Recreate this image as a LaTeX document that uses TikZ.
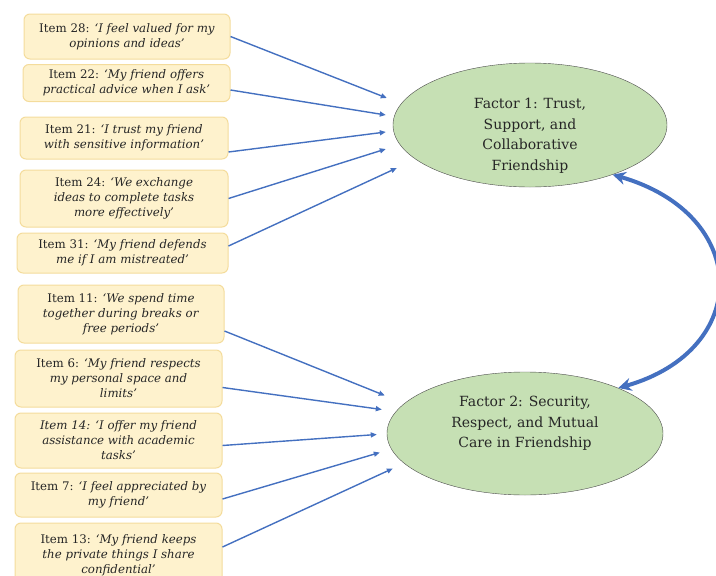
\documentclass[tikz,border=0pt]{standalone}
\usepackage{fontspec}
\setmainfont{DejaVu Serif}
\usetikzlibrary{arrows.meta, positioning, shapes, calc}
\definecolor{itemfill}{HTML}{FEF2CD}
\definecolor{itemline}{HTML}{F4DC9C}
\definecolor{factorfill}{HTML}{C6E0B4}
\definecolor{arrowblue}{HTML}{4470C0}

\begin{document}
\begin{tikzpicture}[
    x=1pt, y=-1pt,
    every node/.style={align=center, text=black!85},
    item/.style={rectangle, rounded corners=6pt, draw=itemline, fill=itemfill, line width=1pt,
                 inner sep=0pt, font=\fontsize{11.8}{15}\selectfont},
    factor/.style={ellipse, draw=black!70, fill=factorfill, thin, inner sep=0pt},
    factortext/.style={font=\fontsize{14}{20.5}\selectfont},
    arrow/.style={-{Triangle[length=6pt, width=5pt]}, line width=1.4pt, arrowblue},
    link/.style={{Stealth[length=13pt, width=13pt]}-{Stealth[length=13pt, width=13pt]},
                 line width=4pt, arrowblue}
]
\useasboundingbox (0,0) rectangle (716,576);

% --- Items of factor 1 ---
\node[item, minimum width=206, minimum height=45] (i28) at (127,36.5)
  {Item 28: \textit{`I feel valued for my}\\\textit{opinions and ideas'}};
\node[item, minimum width=207, minimum height=37] (i22) at (126.5,83)
  {Item 22: \textit{`My friend offers}\\\textit{practical advice when I ask'}};
\node[item, minimum width=208, minimum height=42] (i21) at (124,138)
  {Item 21: \textit{`I trust my friend}\\\textit{with sensitive information'}};
\node[item, minimum width=208, minimum height=57] (i24) at (124,198.5)
  {Item 24: \textit{`We exchange}\\\textit{ideas to complete tasks}\\\textit{more effectively'}};
\node[item, minimum width=211, minimum height=40] (i31) at (122.5,253)
  {Item 31: \textit{`My friend defends}\\\textit{me if I am mistreated'}};

% --- Items of factor 2 ---
\node[item, minimum width=206, minimum height=58] (i11) at (121,314)
  {Item 11: \textit{`We spend time}\\\textit{together during breaks or}\\\textit{free periods'}};
\node[item, minimum width=207, minimum height=57] (i6) at (118.5,378.5)
  {Item 6: \textit{`My friend respects}\\\textit{my personal space and}\\\textit{limits'}};
\node[item, minimum width=207, minimum height=55] (i14) at (118.5,440.5)
  {\textit{Item 14: `I offer my friend}\\\textit{assistance with academic}\\\textit{tasks'}};
\node[item, minimum width=207, minimum height=44] (i7) at (118.5,495)
  {Item 7: \textit{`I feel appreciated by}\\\textit{my friend'}};
\node[item, minimum width=207, minimum height=64] (i13) at (118.5,555)
  {Item 13: \textit{`My friend keeps}\\\textit{the private things I share}\\\textit{confidential'}};

% --- Factors ---
\node[factor, minimum width=274, minimum height=124] (f1) at (530,125) {};
\node[factortext] (f1text) at ($(f1)+(0,11)$)
  {Factor 1: Trust,\\Support, and\\Collaborative\\Friendship};
\node[factor, minimum width=276, minimum height=123] (f2) at (525,433.5) {};
\node[factortext] (f2text) at ($(f2)+(0,-10)$)
  {Factor 2: Security,\\Respect, and Mutual\\Care in Friendship};

% --- Loadings ---
\draw[arrow] (i28.east) -- ($(f1.west)+(-6,-27)$);
\draw[arrow] ($(i22.east)+(0,7)$) -- ($(f1.west)+(-7,-10)$);
\draw[arrow] ($(i21.east)+(0,14)$) -- ($(f1.west)+(-7,7)$);
\draw[arrow] (i24.east) -- ($(f1.west)+(-7,24)$);
\draw[arrow] ($(i31.east)+(0,-7)$) -- ($(f1.west)+(4,43)$);

\draw[arrow] ($(i11.east)+(0,17)$) -- ($(f2.west)+(-2,-38)$);
\draw[arrow] ($(i6.east)+(0,9)$) -- ($(f2.west)+(-5,-24)$);
\draw[arrow] ($(i14.east)+(0,5)$) -- ($(f2.west)+(-10,1)$);
\draw[arrow] ($(i7.east)+(0,4)$) -- ($(f2.west)+(-7,19)$);
\draw[arrow] ($(i13.east)+(0,-8)$) -- ($(f2.west)+(6,35)$);

% --- Correlation between factors ---
\draw[link] (f1.-31) .. controls +(139,40) and +(134,-38) .. (f2.26);

\end{tikzpicture}
\end{document}
